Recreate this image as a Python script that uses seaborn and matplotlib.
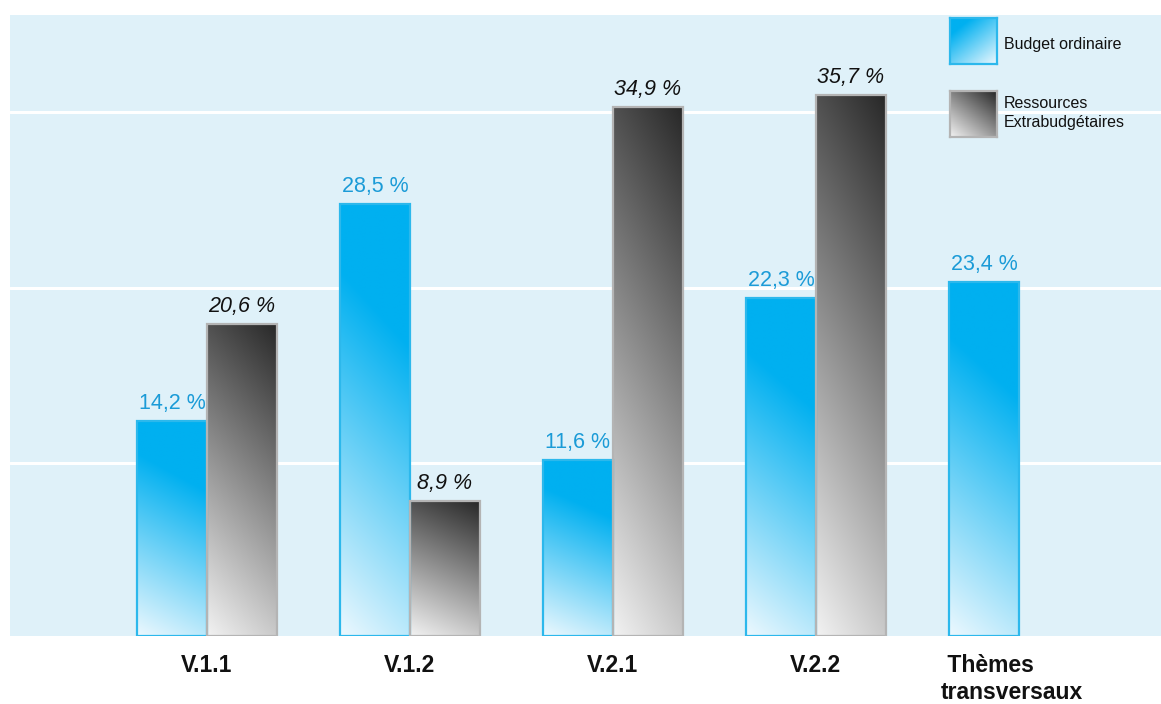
import numpy as np
import pandas as pd
import matplotlib.pyplot as plt
import matplotlib.transforms as mtransforms
import seaborn as sns

# Chart values
groups = ['V.1.1', 'V.1.2', 'V.2.1', 'V.2.2', 'Thèmes\ntransversaux']
budget_ordinaire = [14.2, 28.5, 11.6, 22.3, 23.4]
ressources_extra = [20.6, 8.9, 34.9, 35.7, np.nan]
series_names = ['Budget ordinaire', 'Ressources\nExtrabudgétaires']

df = pd.DataFrame({
    'groupe': groups * 2,
    'serie': [series_names[0]] * len(groups) + [series_names[1]] * len(groups),
    'valeur': budget_ordinaire + ressources_extra,
})

sns.set_theme(style='white')
plt.rcParams['font.family'] = ['Liberation Sans', 'DejaVu Sans']

BG = '#dff1f9'
BLUE_TOP = np.array([0, 176, 240]) / 255
BLUE_BOT = np.array([236, 248, 254]) / 255
GREY_TOP = np.array([40, 40, 40]) / 255
GREY_BOT = np.array([242, 242, 242]) / 255


def gradient(top, bot, kind, n=200, m=40):
    yy, xx = np.mgrid[0:1:n * 1j, 0:1:m * 1j]
    if kind == 'blue':
        s = 0.85 * yy + 0.15 * xx
        w = np.clip(s / 0.72, 0, 1)
    else:
        s = 0.8 * yy + 0.2 * xx
        w = np.clip(s, 0, 1)
    return bot * (1 - w[..., None]) + top * w[..., None]


fig = plt.figure(figsize=(11.61, 7.04), dpi=100)
ax = fig.add_axes([10 / 1161, 68 / 704, 1151 / 1161, 621 / 704])
ax.set_facecolor(BG)

sns.barplot(data=df, x='groupe', y='valeur', hue='serie', hue_order=series_names,
            order=groups, width=0.69, ax=ax, legend=False)

grads = [gradient(BLUE_TOP, BLUE_BOT, 'blue'), gradient(GREY_TOP, GREY_BOT, 'grey')]
edges = ['#2cb8ec', '#b4b4b4']
label_styles = [dict(color='#1b9bd7', style='normal'), dict(color='#111111', style='italic')]

for i, cont in enumerate(ax.containers):
    for bar in cont.patches:
        h = bar.get_height()
        if np.isnan(h) or h == 0:
            continue
        x0 = bar.get_x()
        w = bar.get_width()
        ax.imshow(grads[i], extent=[x0, x0 + w, 0, h], origin='lower',
                  aspect='auto', zorder=2, interpolation='bilinear')
        bar.set_facecolor('none')
        bar.set_edgecolor(edges[i])
        bar.set_linewidth(1.6)
        bar.set_zorder(3)
        ax.annotate(f'{h:.1f} %'.replace('.', ','), (x0 + w / 2, h),
                    xytext=(0, 5), textcoords='offset points',
                    ha='center', va='bottom', fontsize=15.5,
                    **label_styles[i])

ax.set_xlim(-0.97, 4.70)
ax.set_ylim(0, 41)
ax.set_yticks([11.45, 23.0, 34.6])
ax.set_yticklabels([])
ax.grid(axis='y', color='white', linewidth=2.2)
ax.set_axisbelow(True)
ax.tick_params(axis='y', length=0)
ax.tick_params(axis='x', length=0, pad=13)
for sp in ax.spines.values():
    sp.set_visible(False)
ax.set_xlabel('')
ax.set_ylabel('')

ticklabels = [' Thèmes\ntransversaux' if g.startswith('Thèmes') else g for g in groups]
ax.set_xticks(range(len(groups)))
ax.set_xticklabels(ticklabels, fontsize=16.5, fontweight='bold', color='#111111',
                   linespacing=1.2)
last = ax.get_xticklabels()[-1]
last.set_multialignment('left')
last.set_transform(last.get_transform() +
                   mtransforms.ScaledTranslation(-7 / 100, 0, fig.dpi_scale_trans))

# Legend swatches with the same gradients
sw_pos = [(950, 18), (950, 91)]
for i, (px, py) in enumerate(sw_pos):
    sax = fig.add_axes([px / 1161, (704 - py - 46) / 704, 47 / 1161, 46 / 704])
    yy, xx = np.mgrid[0:1:60j, 0:1:60j]
    if i == 0:
        s = 0.55 * yy + 0.45 * (1 - xx)
        wgt = np.clip(s / 0.8, 0, 1)
    else:
        s = 0.55 * yy + 0.45 * xx
        wgt = np.clip(s, 0, 1)
    top = [BLUE_TOP, GREY_TOP][i]
    bot = [BLUE_BOT, GREY_BOT][i]
    sax.imshow(bot * (1 - wgt[..., None]) + top * wgt[..., None], origin='lower',
               aspect='auto', extent=[0, 1, 0, 1])
    sax.set_xticks([])
    sax.set_yticks([])
    for sp in sax.spines.values():
        sp.set_color(edges[i])
        sp.set_linewidth(1.6)

fig.text(1004 / 1161, (704 - 45) / 704, series_names[0], fontsize=11.5,
         va='center', ha='left', color='#111111')
fig.text(1004 / 1161, (704 - 113) / 704, series_names[1], fontsize=11.5,
         va='center', ha='left', color='#111111', linespacing=1.4)

fig.savefig('out.png', dpi=100, facecolor='white')
